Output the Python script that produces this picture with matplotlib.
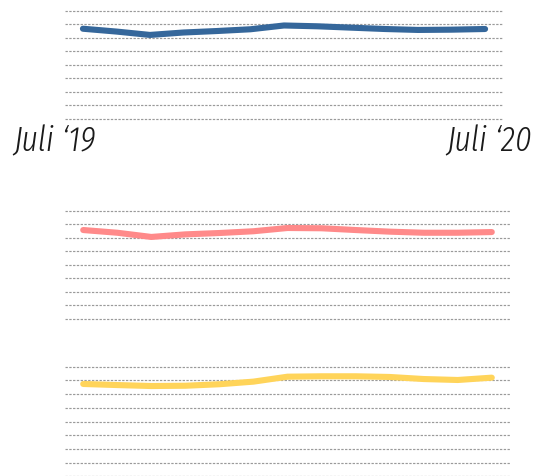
import matplotlib
matplotlib.use("Agg")
import matplotlib.pyplot as plt
from matplotlib import font_manager

months = list(range(13))  # Juli '19 .. Juli '20
x_labels = ["Juli \u201819", "Juli \u201820"]
grid_values = [0, 10, 20, 30, 40, 50, 60, 70, 80]

series_blue = [66.5, 64.4, 61.9, 63.7, 64.8, 66.1, 68.9, 68.3, 67.3, 66.3, 65.6, 65.8, 66.3]
series_pink = [65.6, 63.6, 60.5, 62.4, 63.4, 64.7, 67.1, 66.9, 65.6, 64.4, 63.6, 63.6, 64.1]
series_yellow = [67.4, 66.6, 65.9, 66.1, 67.2, 69.1, 72.7, 73.0, 73.0, 72.5, 71.0, 70.3, 72.0]

W, H = 535, 476
fig = plt.figure(figsize=(W / 100, H / 100), dpi=100)

def ax_rect(x0, x1, ytop, ybot):
    return [x0 / W, 1 - ybot / H, (x1 - x0) / W, (ybot - ytop) / H]

panels = [
    (ax_rect(65, 503, 10.5, 118.5), series_blue, "#35679b"),
    (ax_rect(65, 510, 210.5, 319.0), series_pink, "#ff8a8a"),
    (ax_rect(65, 510, 366.7, 476.3), series_yellow, "#ffd45a"),
]

pad = 0.535
for rect, vals, col in panels:
    ax = fig.add_axes(rect)
    ax.set_xlim(months[0] - pad, months[-1] + pad)
    ax.set_ylim(grid_values[0], grid_values[-1])
    for g in grid_values:
        ax.axhline(g, color="#9a9a9a", lw=0.85, ls=(0, (2.0, 1.2)), zorder=1, clip_on=False)
    ax.plot(months, vals, color=col, lw=4.4, solid_capstyle="round",
            solid_joinstyle="round", zorder=3)
    ax.axis("off")

italic_fonts = [f for f in font_manager.fontManager.ttflist if f.style == "italic"]
italic_names = {f.name for f in italic_fonts}
fam = "DejaVu Sans"
for cand in ["Fira Sans Extra Condensed", "Fira Sans Condensed", "Asap Condensed",
             "Archivo Narrow", "Roboto Condensed", "Liberation Sans Narrow"]:
    if cand in italic_names:
        fam = cand
        break
weights = {f.weight for f in italic_fonts if f.name == fam}
weight = 300 if 300 in weights else "normal"
kw = dict(fontsize=25, style="italic", weight=weight, family=[fam, "DejaVu Sans"],
          color="#1a1a1a", va="baseline")
fig.text(13 / W, 1 - 151 / H, x_labels[0], ha="left", **kw)
fig.text(532 / W, 1 - 151 / H, x_labels[1], ha="right", **kw)

fig.savefig("out.png", dpi=100)
